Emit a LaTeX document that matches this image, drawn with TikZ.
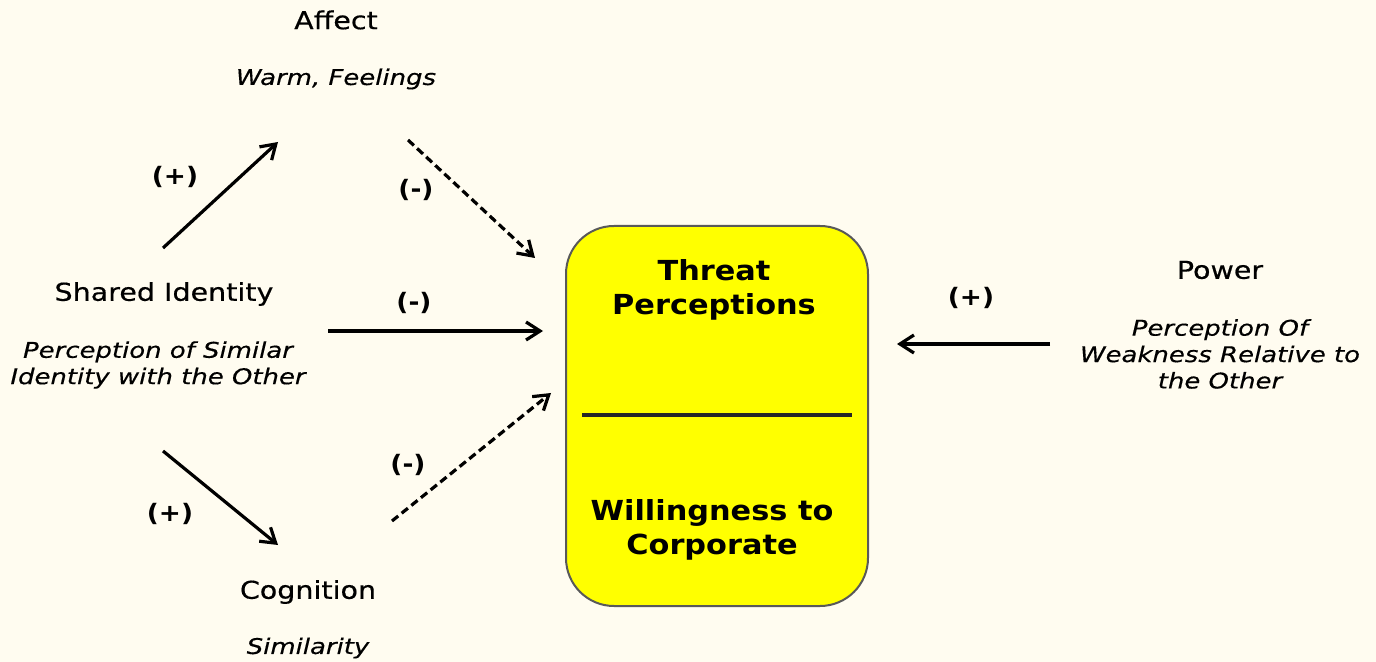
\documentclass[tikz,border=0pt]{standalone}
\usepackage{fontspec}
\setmainfont{DejaVu Sans}
\newfontfamily\titlefont[FakeStretch=1.16, FakeBold=0.5]{DejaVu Sans}
\newfontfamily\detailfont[FakeStretch=1.2, FakeBold=0.4]{DejaVu Sans}
\newfontfamily\boxfont[FakeStretch=1.1]{DejaVu Sans}
\usetikzlibrary{arrows.meta}
\definecolor{paper}{RGB}{255,252,240}
\definecolor{boxyellow}{RGB}{255,255,0}
\begin{document}
\begin{tikzpicture}[
        x=0.5pt, y=-0.5pt,
        title/.style={
            font=\titlefont\fontsize{12.3}{14}\selectfont,
            align=center
        },
        detail/.style={
            font=\detailfont\fontsize{10.8}{13.2}\selectfont\itshape,
            align=center
        },
        sign/.style={
            font=\boxfont\fontsize{12}{14}\selectfont\bfseries
        },
        link/.style={
            -{Straight Barb[length=7pt, width=9pt]},
            line width=1.6pt
        },
        weak/.style={
            link, dash pattern=on 4pt off 2.2pt
        }
    ]
        % --- Fond et cadre ---
        \fill[paper] (0,0) rectangle (1376,662);
        \useasboundingbox (0,0) rectangle (1376,662);

        % --- 1. Affect ---
        \node[title] (affect) at (336,20) {Affect};
        \node[detail] (warm) at (336,79) {Warm, Feelings};

        % --- 2. Shared Identity ---
        \node[title] (shared) at (164,294) {Shared Identity};
        \node[detail] (similar) at (158,365) {Perception of Similar\\Identity with the Other};

        % --- 3. Cognition ---
        \node[title] (cognition) at (308,592) {Cognition};
        \node[detail] (similarity) at (308,648) {Similarity};

        % --- 4. Power ---
        \node[title] (power) at (1220,270) {Power};
        \node[detail] (weakness) at (1220,354) {Perception Of\\Weakness Relative to\\the Other};

        % --- 5. Threat / Willingness ---
        \draw[fill=boxyellow, draw=gray!70!black, line width=1pt, rounded corners=24pt]
            (566,226) rectangle (868,606);
        \node[font=\boxfont\fontsize{13.8}{17}\selectfont\bfseries, align=center] (threat) at (714,290)
            {Threat\\Perceptions};
        \node[font=\boxfont\fontsize{13.8}{17}\selectfont\bfseries, align=center] (willing) at (712,530)
            {Willingness to\\Corporate};
        \coordinate (splitl) at (582,415);
        \coordinate (splitr) at (852,415);
        \draw[line width=2pt, black!85] (splitl) -- (splitr);

        % --- Extrémités des flèches ---
        \coordinate (sa) at (163,248);
        \coordinate (as) at (278,142);
        \coordinate (at) at (408,140);
        \coordinate (ta) at (535,258);
        \coordinate (st) at (328,331);
        \coordinate (ts) at (543,331);
        \coordinate (sc) at (163,451);
        \coordinate (cs) at (278,545);
        \coordinate (ct) at (392,521);
        \coordinate (tc) at (551,393);
        \coordinate (pt) at (1050,344);
        \coordinate (tp) at (897,344);

        % --- Flèches et signes ---
        \draw[link] (sa) -- (as);
        \node[sign] (plusa) at (175,177) {(+)};

        \draw[weak] (at) -- (ta);
        \node[sign] (minusa) at (416,190) {(-)};

        \draw[link] (st) -- (ts);
        \node[sign] (minuss) at (414,303) {(-)};

        \draw[link] (sc) -- (cs);
        \node[sign] (plusc) at (170,514) {(+)};

        \draw[weak] (ct) -- (tc);
        \node[sign] (minusc) at (408,465) {(-)};

        \draw[link] (pt) -- (tp);
        \node[sign] (plusp) at (971,298) {(+)};
    \end{tikzpicture}
\end{document}
